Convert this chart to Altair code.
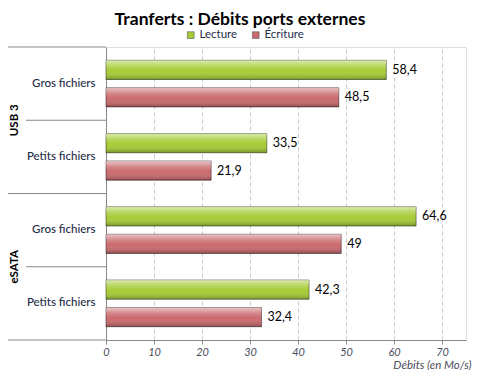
import altair as alt
import pandas as pd

# ---- data ----
groups = ["USB 3", "USB 3", "eSATA", "eSATA"]
file_types = ["Gros fichiers", "Petits fichiers", "Gros fichiers", "Petits fichiers"]
series = ["Lecture", "Écriture"]
lecture = [58.4, 33.5, 64.6, 42.3]
ecriture = [48.5, 21.9, 49.0, 32.4]
x_ticks = [0, 10, 20, 30, 40, 50, 60, 70]
group_names = ["USB 3", "eSATA"]

rows = [f"{g}|{f}" for g, f in zip(groups, file_types)]
recs = []
for r, g, f, a, b in zip(rows, groups, file_types, lecture, ecriture):
    for s, v in ((series[0], a), (series[1], b)):
        recs.append({"row": r, "group": g, "file": f, "series": s, "value": v,
                     "label": f"{v:g}".replace(".", ",")})
df = pd.DataFrame(recs)

first_rows = [rows[groups.index(g)] for g in group_names]
gdf = pd.DataFrame({"row": first_rows, "group": group_names})
sep_long = pd.DataFrame({"row": [rows[0], rows[2]]})
sep_short = pd.DataFrame({"row": [rows[1], rows[3]]})
sep_bottom = pd.DataFrame({"row": [rows[-1]]})

# ---- layout ----
W, H = 360, 293
P_IN = 0.3627
P_OUT = P_IN / 2
HALF_GAP = P_OUT * H / 4

FONT = "Lato"
GREEN = "#a6cc36"
RED = "#cb6a6e"
TXT = "#1f2d4a"
AX = "#4a4a5a"

yscale = alt.Scale(domain=rows, paddingInner=P_IN, paddingOuter=P_OUT)
offscale = alt.Scale(domain=series, paddingInner=0.3, paddingOuter=0)
xscale = alt.Scale(domain=[0, 75], nice=False, zero=True)

x_axis = alt.Axis(
    values=x_ticks, title="Débits (en Mo/s)", titleFont=FONT, titleFontStyle="italic",
    titleFontWeight="normal", titleFontSize=11.5, titleColor=AX, titleAnchor="end",
    titleAlign="right", titleX=365, titleY=30, titleBaseline="bottom",
    labelFont=FONT, labelFontStyle="italic", labelFontSize=11, labelColor=AX,
    labelPadding=2, tickSize=4, tickColor="#888", domainColor="#888",
    grid=True, gridColor="#c8c8c8", gridDash=[4, 3], labelFlush=False,
)
y_axis = alt.Axis(
    title=None, labelExpr="split(datum.label, '|')[1]", ticks=False, domain=True,
    domainColor="#888", labelFont=FONT, labelFontSize=11.5, labelColor=TXT,
    labelPadding=11, grid=False, labelFontWeight=500,
)

Y = alt.Y("row:N", scale=yscale, sort=rows, axis=y_axis)
YO = alt.YOffset("series:N", scale=offscale, sort=series)
X = alt.X("value:Q", scale=xscale, axis=x_axis)

base = alt.Chart(df)

bars = base.mark_bar(stroke="rgba(0,0,0,0.45)", strokeWidth=1).encode(
    x=X, y=Y, yOffset=YO,
    color=alt.Color(
        "series:N", scale=alt.Scale(domain=series, range=[GREEN, RED]),
        legend=alt.Legend(
            title=None, orient="none", legendX=79, legendY=-18, direction="horizontal",
            columns=2, symbolType="square", symbolSize=45, labelFont=FONT,
            labelFontSize=11.5, labelColor=TXT, labelOffset=3, columnPadding=12,
            symbolStrokeColor="#555", symbolStrokeWidth=0.6,
        ),
    ),
)

shade = alt.Gradient(
    gradient="linear", x1=0, x2=0, y1=0, y2=1,
    stops=[
        alt.GradientStop(color="rgba(255,255,255,0.6)", offset=0),
        alt.GradientStop(color="rgba(255,255,255,0.2)", offset=0.3),
        alt.GradientStop(color="rgba(255,255,255,0)", offset=0.55),
        alt.GradientStop(color="rgba(0,0,0,0.28)", offset=1),
    ],
)
gloss = base.mark_bar(fill=shade, strokeWidth=0).encode(x=X, y=Y, yOffset=YO)

values = base.mark_text(align="left", baseline="middle", dx=6, font=FONT,
                        fontSize=12.5, color="black").encode(
    x=X, y=Y, yOffset=YO, text="label:N")

grp = alt.Chart(gdf).mark_text(
    angle=270, font=FONT, fontWeight="bold", fontSize=11.5, color="black",
    align="center", baseline="middle", yOffset=HALF_GAP,
).encode(
    x=alt.value(-91),
    y=alt.Y("row:N", scale=yscale, sort=rows, bandPosition=1),
    text="group:N",
)

rule_color = "#888"
r_long = alt.Chart(sep_long).mark_rule(color=rule_color, yOffset=-HALF_GAP).encode(
    y=alt.Y("row:N", scale=yscale, sort=rows, bandPosition=0),
    x=alt.value(-98), x2=alt.value(0))
r_short = alt.Chart(sep_short).mark_rule(color=rule_color, yOffset=-HALF_GAP).encode(
    y=alt.Y("row:N", scale=yscale, sort=rows, bandPosition=0),
    x=alt.value(-80), x2=alt.value(0))
r_bottom = alt.Chart(sep_bottom).mark_rule(color=rule_color, yOffset=HALF_GAP).encode(
    y=alt.Y("row:N", scale=yscale, sort=rows, bandPosition=1),
    x=alt.value(-98), x2=alt.value(0))

chart = alt.layer(bars, gloss, values, grp, r_long, r_short, r_bottom).properties(
    width=W, height=H,
    autosize=alt.AutoSizeParams(type="none"),
    padding={"left": 98, "top": 39, "right": 6, "bottom": 30},
    title=alt.TitleParams(
        "Tranferts : Débits ports externes", font=FONT, fontSize=17.5,
        fontWeight="bold", color="black", anchor="middle", dx=-46, offset=1,
        frame="group",
    ),
).configure_view(stroke=None).configure(background="white")

chart.save("out.html", embed_options={"renderer": "svg", "actions": False})
